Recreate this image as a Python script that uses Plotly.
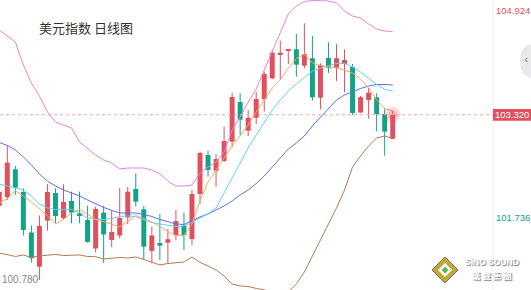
import plotly.graph_objects as go

# ---------------- data ----------------
idx = list(range(50))
opens = [101.921, 102.051, 102.481, 102.132, 101.509, 100.983, 101.691, 102.117, 101.732, 101.994,
         101.804, 101.701, 101.263, 101.814, 101.394, 101.463, 101.740, 102.178, 101.866, 101.225,
         101.348, 101.352, 101.466, 101.617, 101.409, 102.101, 102.701, 102.460, 102.609, 102.906,
         103.517, 103.075, 103.275, 103.558, 103.881, 104.255, 104.306, 104.328, 104.075, 104.189,
         103.583, 104.194, 104.045, 104.101, 104.055, 103.355, 103.548, 103.589, 103.332, 102.952]
highs = [102.194, 102.845, 102.532, 102.189, 101.617, 101.771, 102.251, 102.189, 102.251, 102.137,
         102.137, 101.921, 101.906, 101.921, 101.855, 102.194, 102.209, 102.420, 101.917, 101.598,
         101.789, 101.563, 101.855, 101.814, 102.163, 102.752, 102.768, 102.712, 103.137, 103.660,
         103.651, 103.394, 103.675, 103.983, 104.317, 104.460, 104.328, 104.563, 104.728, 104.532,
         104.112, 104.435, 104.406, 104.328, 104.101, 103.609, 103.732, 103.651, 103.417, 103.383]
lows = [101.886, 102.009, 102.086, 101.460, 101.045, 100.780, 101.537, 101.651, 101.701, 101.651,
        101.651, 101.352, 101.204, 101.040, 101.286, 101.420, 101.640, 101.906, 101.086, 101.035,
        101.086, 101.035, 101.386, 101.240, 101.317, 101.948, 102.368, 102.214, 102.594, 102.820,
        103.009, 102.994, 103.178, 103.368, 103.866, 103.866, 104.101, 103.906, 104.035, 103.540,
        103.401, 103.963, 103.840, 103.666, 103.317, 103.348, 103.260, 103.066, 102.689, 102.943]
closes = [102.137, 102.583, 102.198, 101.548, 101.112, 101.609, 102.132, 101.763, 101.978, 101.814,
          101.763, 101.363, 101.871, 101.478, 101.517, 101.732, 102.137, 101.983, 101.291, 101.463,
          101.306, 101.405, 101.686, 101.471, 102.101, 102.732, 102.471, 102.640, 102.917, 103.594,
          103.245, 103.275, 103.563, 103.948, 104.275, 104.275, 104.317, 104.091, 104.255, 103.589,
          104.086, 104.045, 104.191, 104.163, 103.348, 103.591, 103.660, 103.329, 103.060, 103.320]

ma5 = [101.963, 102.032, 102.148, 102.071, 101.978, 101.871, 101.763, 101.640, 101.709, 101.809,
       101.863, 101.786, 101.709, 101.678, 101.632, 101.594, 101.678, 101.771, 101.724, 101.671,
       101.601, 101.524, 101.463, 101.463, 101.640, 101.994, 102.286, 102.471, 102.640, 102.840,
       102.994, 103.163, 103.363, 103.548, 103.732, 103.855, 104.040, 104.186, 104.255, 104.117,
       104.078, 104.055, 104.040, 104.009, 103.963, 103.871, 103.732, 103.548, 103.417, 103.378]
ma10 = [102.255, 102.224, 102.201, 102.163, 102.071, 101.948, 101.886, 101.863, 101.863, 101.863,
        101.817, 101.732, 101.709, 101.709, 101.724, 101.755, 101.763, 101.755, 101.701, 101.663,
        101.640, 101.617, 101.601, 101.609, 101.663, 101.732, 101.794, 101.886, 102.117, 102.363,
        102.578, 102.809, 103.009, 103.209, 103.394, 103.548, 103.686, 103.794, 103.901, 103.994,
        104.040, 104.078, 104.109, 104.109, 104.055, 103.978, 103.886, 103.786, 103.709, 103.686]
ma20 = [102.894, 102.848, 102.778, 102.671, 102.548, 102.409, 102.301, 102.224, 102.163, 102.117,
        102.071, 102.009, 101.948, 101.894, 101.848, 101.809, 101.809, 101.809, 101.786, 101.755,
        101.709, 101.671, 101.640, 101.632, 101.694, 101.748, 101.794, 101.855, 101.917, 101.994,
        102.086, 102.163, 102.263, 102.378, 102.517, 102.651, 102.794, 102.886, 102.994, 103.148,
        103.286, 103.424, 103.548, 103.624, 103.678, 103.724, 103.763, 103.786, 103.786, 103.778]
boll_up = [104.624, 104.532, 104.440, 104.086, 103.809, 103.609, 103.363, 103.209, 103.163, 103.117,
           102.901, 102.794, 102.701, 102.624, 102.578, 102.486, 102.501, 102.501, 102.501, 102.471,
           102.409, 102.301, 102.224, 102.224, 102.240, 102.424, 102.517, 102.594, 102.748, 103.086,
           103.286, 103.517, 103.717, 104.009, 104.301, 104.578, 104.871, 104.994, 105.063, 105.078,
           105.078, 105.071, 105.040, 104.917, 104.840, 104.809, 104.717, 104.640, 104.609, 104.601]
boll_dn = [101.194, 101.171, 101.140, 101.163, 101.125, 101.148, 101.163, 101.171, 101.155, 101.155,
           101.163, 101.140, 101.137, 101.101, 101.117, 101.125, 101.117, 101.132, 101.094, 101.055,
           101.009, 101.032, 101.040, 101.055, 101.132, 101.048, 100.994, 100.932, 100.840, 100.717,
           100.686, 100.678, 100.648, 100.624, 100.594, 100.578, 100.594, 100.717, 100.901, 101.148,
           101.394, 101.640, 101.886, 102.163, 102.517, 102.686, 102.840, 102.963, 102.994, 102.955]

title_text = "美元指数 日线图"
label_top = 104.924
label_bottom = 101.736
last_price = 103.320
low_label = 100.780

# ---------------- styling ----------------
RED = "#e2505d"
GREEN = "#13a386"
W, H = 531, 290
PLOT_W = 493
X_RANGE = [0.091, 61.49]
Y_RANGE = [100.624, 105.086]

def px(x):
    return x / PLOT_W

def py(y):
    return 1 - y / H

fig = go.Figure()

# wicks
for color, cond in ((RED, lambda o, c: c >= o), (GREEN, lambda o, c: c < o)):
    wx, wy = [], []
    for i, o, h, l, c in zip(idx, opens, highs, lows, closes):
        if cond(o, c):
            wx += [i, i, None]
            wy += [l, h, None]
    fig.add_trace(go.Scatter(x=wx, y=wy, mode="lines", line=dict(color=color, width=1),
                             hoverinfo="skip"))

# bodies
for color, up in ((RED, True), (GREEN, False)):
    bx, bb, bh = [], [], []
    for i, o, c in zip(idx, opens, closes):
        if (c >= o) == up:
            bx.append(i)
            bb.append(min(o, c))
            bh.append(max(abs(c - o), 0.018))
    fig.add_trace(go.Bar(x=bx, y=bh, base=bb, width=0.62, marker=dict(color=color, line=dict(width=0)),
                         hoverinfo="skip"))

# indicator lines
for vals, col in ((boll_up, "#e184dd"), (boll_dn, "#b47a52"), (ma20, "#5b70f0"),
                  (ma10, "#62d2ea"), (ma5, "#f8aa66")):
    fig.add_trace(go.Scatter(x=idx, y=vals, mode="lines", line=dict(color=col, width=1),
                             hoverinfo="skip"))

# glow on last candle
fig.add_trace(go.Scatter(x=[idx[-1]], y=[last_price], mode="markers",
                         marker=dict(size=16, color="rgba(230,80,95,0.18)", line=dict(width=0)),
                         hoverinfo="skip"))
fig.add_trace(go.Scatter(x=[idx[-1]], y=[last_price], mode="markers",
                         marker=dict(size=9, color="rgba(230,80,95,0.25)", line=dict(width=0)),
                         hoverinfo="skip"))

# leader from low label to lowest low
fig.add_trace(go.Scatter(x=[3.9, 4.95], y=[low_label, low_label], mode="lines",
                         line=dict(color="#e9b5bb", width=1, dash="dot"), hoverinfo="skip"))

shapes = [
    dict(type="line", xref="paper", yref="paper", x0=1, x1=1, y0=0, y1=1,
         line=dict(color="#ececec", width=1)),
    dict(type="line", xref="paper", yref="y", x0=0, x1=1, y0=last_price, y1=last_price,
         line=dict(color="#f1a3ab", width=1, dash="dot")),
    dict(type="rect", xref="paper", yref="y", x0=1.0, x1=px(531), y0=last_price - 0.09,
         y1=last_price + 0.09, fillcolor=RED, line=dict(width=0)),
    # right edge tab
    dict(type="path", xref="paper", yref="paper",
         path=f"M {px(531)},{py(44)} L {px(526)},{py(46)} Q {px(520)},{py(50)} {px(520)},{py(60)} "
              f"Q {px(520)},{py(72)} {px(526)},{py(76)} L {px(531)},{py(78)} Z",
         fillcolor="#e9e9ec", line=dict(width=0)),
    # logo diamond
    dict(type="path", xref="paper", yref="paper",
         path=f"M {px(445)},{py(257)} L {px(458)},{py(270)} L {px(445)},{py(283)} L {px(432)},{py(270)} Z",
         fillcolor="#c4a63a", line=dict(color="#6b6b60", width=1)),
    dict(type="path", xref="paper", yref="paper",
         path=f"M {px(445)},{py(263)} L {px(452)},{py(270)} L {px(445)},{py(277)} L {px(438)},{py(270)} Z",
         fillcolor="#ffffff", line=dict(width=0)),
    dict(type="path", xref="paper", yref="paper",
         path=f"M {px(445)},{py(266.5)} L {px(448.5)},{py(270)} L {px(445)},{py(273.5)} L {px(441.5)},{py(270)} Z",
         fillcolor="#5fb35a", line=dict(width=0)),
]

num_font = "Liberation Sans, Arial, sans-serif"
annotations = [
    dict(text=title_text, xref="paper", yref="paper", x=px(37), y=py(27.5), xanchor="left",
         yanchor="middle", showarrow=False,
         font=dict(family="Noto Sans CJK SC", size=13, color="#333333")),
    dict(text=f"{label_top:.3f}", xref="paper", yref="y", x=px(513), y=label_top,
         xanchor="center", yanchor="middle", showarrow=False,
         font=dict(family=num_font, size=9.5, color=RED)),
    dict(text=f"{label_bottom:.3f}", xref="paper", yref="y", x=px(513), y=label_bottom,
         xanchor="center", yanchor="middle", showarrow=False,
         font=dict(family=num_font, size=9.5, color=GREEN)),
    dict(text=f"{last_price:.3f}", xref="paper", yref="y", x=px(512), y=last_price,
         xanchor="center", yanchor="middle", showarrow=False,
         font=dict(family=num_font, size=9.5, color="#ffffff")),
    dict(text=f"{low_label:.3f}", xref="paper", yref="y", x=0, y=low_label,
         xanchor="left", yanchor="middle", showarrow=False,
         font=dict(family=num_font, size=10, color="#8a8a8a")),
    dict(text="‹", xref="paper", yref="paper", x=px(526), y=py(60), xanchor="center",
         yanchor="middle", showarrow=False, font=dict(family="DejaVu Sans", size=11, color="#777777")),
    dict(text="<b>SiNO SOUND</b>", xref="paper", yref="paper", x=px(492), y=py(262),
         xanchor="center", yanchor="middle", showarrow=False,
         font=dict(family="Liberation Sans", size=8.5, color="#ffffff", shadow="1px 1px 1px #707070")),
    dict(text="<b>漢 聲 集 團</b>", xref="paper", yref="paper", x=px(492), y=py(275),
         xanchor="center", yanchor="middle", showarrow=False,
         font=dict(family="Noto Sans CJK TC", size=8.5, color="#ffffff", shadow="1px 1px 1px #707070")),
]

fig.update_layout(
    width=W, height=H,
    margin=dict(l=0, r=W - PLOT_W, t=0, b=0),
    paper_bgcolor="white", plot_bgcolor="white",
    showlegend=False, barmode="overlay",
    xaxis=dict(range=X_RANGE, visible=False, fixedrange=True),
    yaxis=dict(range=Y_RANGE, visible=False, fixedrange=True),
    shapes=shapes, annotations=annotations,
)

fig.write_html("out.html", config={"displayModeBar": False})
